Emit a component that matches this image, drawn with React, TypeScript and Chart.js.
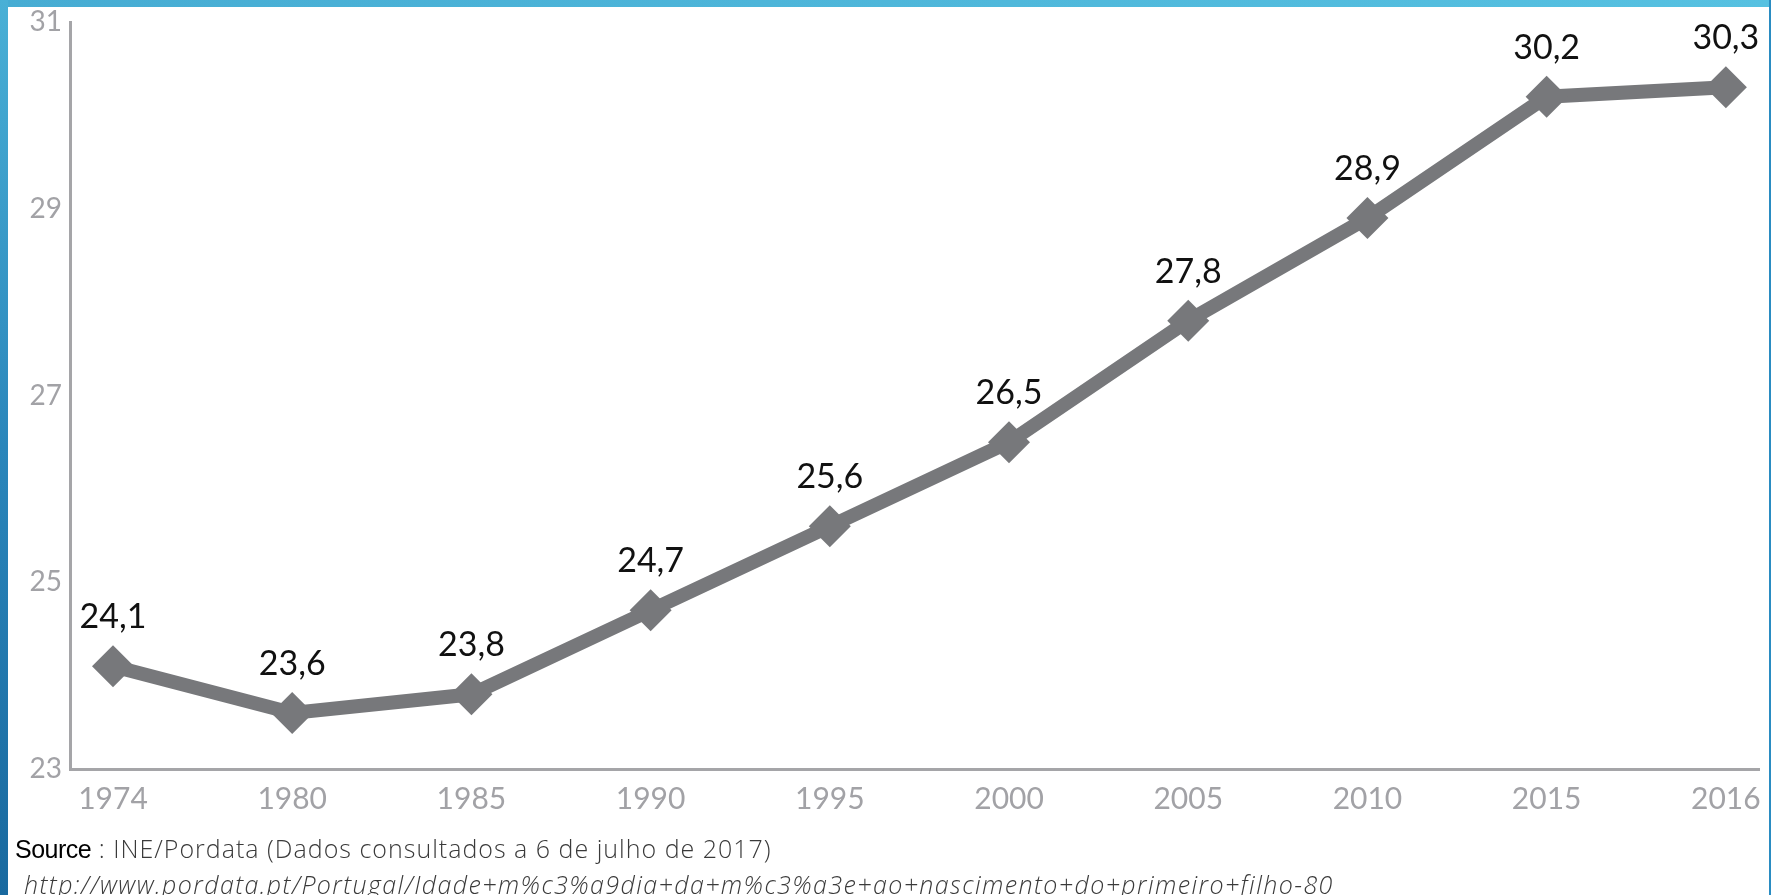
import React, { useEffect, useRef } from "react";
import { Chart, registerables } from "chart.js";

Chart.register(...registerables);

const years = ["1974", "1980", "1985", "1990", "1995", "2000", "2005", "2010", "2015", "2016"];
const ages = [24.1, 23.6, 23.8, 24.7, 25.6, 26.5, 27.8, 28.9, 30.2, 30.3];
const yTicks = [23, 25, 27, 29, 31];

const FONT = "Lato, 'Open Sans', sans-serif";
const NOTE_FONT = "'Open Sans', Lato, sans-serif";
const LINE = "#77787b";
const AXIS = "#a5a5a8";
const TICK = "#a2a2a6";

const valueLabels = {
  id: "valueLabels",
  afterDatasetsDraw(chart: any) {
    const ctx = chart.ctx;
    const meta = chart.getDatasetMeta(0);
    ctx.save();
    ctx.font = `400 34px ${FONT}`;
    ctx.fillStyle = "#111111";
    ctx.textAlign = "center";
    ctx.textBaseline = "middle";
    meta.data.forEach((pt: any, i: number) => {
      ctx.fillText(ages[i].toFixed(1).replace(".", ","), pt.x, pt.y - 49);
    });
    ctx.restore();
  },
};

export default function App() {
  const ref = useRef<HTMLCanvasElement | null>(null);

  useEffect(() => {
    if (!ref.current) return;
    const chart = new Chart(ref.current, {
      type: "line",
      data: {
        datasets: [
          {
            data: ages.map((v, i) => ({ x: i, y: v })),
            borderColor: LINE,
            backgroundColor: LINE,
            borderWidth: 14,
            tension: 0,
            pointStyle: "rectRot",
            pointRadius: 21,
            pointHoverRadius: 21,
            pointBackgroundColor: LINE,
            pointBorderWidth: 0,
            borderJoinStyle: "miter",
            clip: false as any,
          },
        ],
      },
      options: {
        animation: false,
        responsive: true,
        maintainAspectRatio: false,
        devicePixelRatio: 1,
        layout: { autoPadding: false, padding: { top: 22, right: 12, bottom: 0, left: 0 } },
        plugins: { legend: { display: false }, tooltip: { enabled: false }, title: { display: false } },
        scales: {
          x: {
            type: "linear",
            min: -0.24,
            max: 9.185,
            grid: { display: false, drawTicks: false },
            border: { display: true, color: AXIS, width: 3 },
            afterBuildTicks: (scale: any) => {
              scale.ticks = years.map((_, i) => ({ value: i }));
            },
            afterFit: (scale: any) => {
              scale.height = 126;
              scale.paddingLeft = 0;
              scale.paddingRight = 0;
            },
            ticks: {
              autoSkip: false,
              maxRotation: 0,
              padding: 12,
              color: TICK,
              font: { family: FONT, size: 30, weight: "400" as any },
              callback: (v: any) => years[v as number] ?? "",
            },
          },
          y: {
            min: 23,
            max: 31,
            grid: { display: false, drawTicks: false },
            border: { display: true, color: AXIS, width: 3 },
            afterBuildTicks: (scale: any) => {
              scale.ticks = yTicks.map((v) => ({ value: v }));
            },
            afterFit: (scale: any) => {
              scale.width = 70;
              scale.paddingTop = 0;
              scale.paddingBottom = 0;
            },
            ticks: {
              padding: 8,
              color: TICK,
              font: { family: FONT, size: 28, weight: "400" as any },
            },
          },
        },
      },
      plugins: [valueLabels],
    });
    return () => chart.destroy();
  }, []);

  return (
    <div
      style={{
        position: "fixed",
        left: 0,
        top: 0,
        width: 1771,
        height: 895,
        background: "#ffffff",
        overflow: "hidden",
      }}
    >
      <div style={{ position: "absolute", left: 0, top: 0, width: 1771, height: 895 }}>
        <canvas ref={ref} />
      </div>
      <div
        style={{
          position: "absolute",
          left: 0,
          top: 0,
          width: 1771,
          height: 7,
          background: "linear-gradient(to right, #46acd3, #56c1e1)",
        }}
      />
      <div
        style={{
          position: "absolute",
          left: 0,
          top: 0,
          width: 8,
          height: 895,
          background: "linear-gradient(to bottom, #49b0d6, #2a86bb 50%, #19699f)",
        }}
      />
      <div
        style={{
          position: "absolute",
          left: 1769,
          top: 0,
          width: 2,
          height: 895,
          background: "#2a8cc2",
        }}
      />
      <div
        style={{
          position: "absolute",
          left: 15,
          top: 835,
          height: 26,
          lineHeight: "26px",
          fontSize: 25,
          whiteSpace: "nowrap",
          color: "#3a3a3a",
          fontFamily: NOTE_FONT,
          fontWeight: 300,
        }}
      >
        <span style={{ fontFamily: "'Liberation Sans', Arial, sans-serif", color: "#000", fontWeight: 400, letterSpacing: -0.5 }}>
          Source
        </span>
        <span style={{ letterSpacing: 1 }}> : INE/Pordata (Dados consultados a 6 de julho de 2017)</span>
      </div>
      <div
        style={{
          position: "absolute",
          left: 24,
          top: 871,
          height: 26,
          lineHeight: "26px",
          fontSize: 25,
          whiteSpace: "nowrap",
          color: "#3a3a3a",
          fontFamily: NOTE_FONT,
          fontStyle: "italic",
          fontWeight: 300,
          letterSpacing: 1.4,
        }}
      >
        http://www.pordata.pt/Portugal/Idade+m%c3%a9dia+da+m%c3%a3e+ao+nascimento+do+primeiro+filho-80
      </div>
    </div>
  );
}
